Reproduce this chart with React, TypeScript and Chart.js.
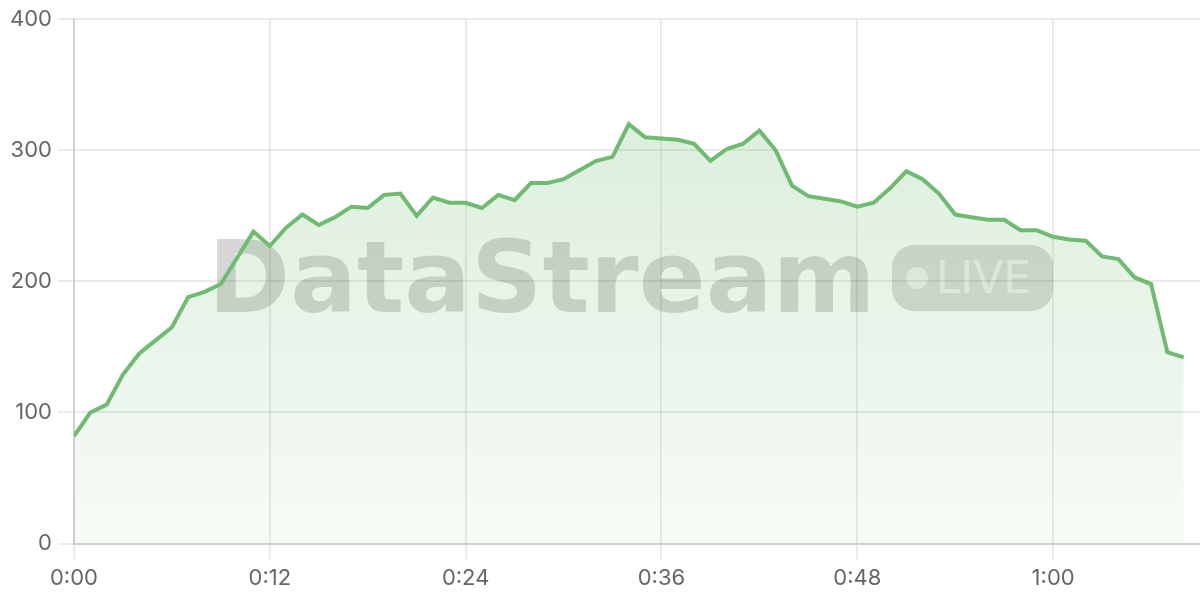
import { useEffect, useRef } from 'react';
import { Chart, registerables } from 'chart.js';

Chart.register(...registerables);

// one reading per minute, 0:00 .. 1:08
const values = [
  82, 100, 106, 129, 145, 155, 165, 188, 192, 198,
  218, 238, 227, 241, 251, 243, 249, 257, 256, 266,
  267, 250, 264, 260, 260, 256, 266, 262, 275, 275,
  278, 285, 292, 295, 320, 310, 309, 308, 305, 292,
  301, 305, 315, 300, 273, 265, 263, 261, 257, 260,
  271, 284, 278, 267, 251, 249, 247, 247, 239, 239,
  234, 232, 231, 219, 217, 203, 198, 146, 142,
];
const minutes = values.map((_, i) => i);
const xMax = 69;
const xTicks = [0, 12, 24, 36, 48, 60];
const yTicks = [0, 100, 200, 300, 400];

const lineColor = 'rgb(112, 186, 114)';
const gridColor = 'rgba(0,0,0,0.08)';

function fmtTime(m: number) {
  const h = Math.floor(m / 60);
  const mm = m % 60;
  return `${h}:${mm.toString().padStart(2, '0')}`;
}

export default function App() {
  const canvasRef = useRef<HTMLCanvasElement | null>(null);

  useEffect(() => {
    document.body.style.margin = '0';
    if (!canvasRef.current) return;

    const chart = new Chart(canvasRef.current, {
      type: 'line',
      data: {
        datasets: [{
          label: 'Viewers',
          data: minutes.map((m, i) => ({ x: m, y: values[i] })),
          borderColor: lineColor,
          borderWidth: 4,
          tension: 0,
          pointRadius: 0,
          fill: 'origin',
          backgroundColor: (ctx: any) => {
            const area = ctx.chart.chartArea;
            if (!area) return 'rgba(108,185,110,0.15)';
            const g = ctx.chart.ctx.createLinearGradient(0, area.top, 0, area.bottom);
            g.addColorStop(0, 'rgba(108,185,110,0.28)');
            g.addColorStop(1, 'rgba(108,185,110,0.06)');
            return g;
          },
        }],
      },
      options: {
        animation: false,
        responsive: true,
        maintainAspectRatio: false,
        layout: { padding: { left: 4, top: 6, right: 0, bottom: 2 } },
        plugins: { legend: { display: false }, tooltip: { enabled: false } },
        scales: {
          x: {
            type: 'linear',
            min: 0,
            max: xMax,
            grid: { lineWidth: 2, tickLength: 16, color: gridColor },
            border: { color: 'rgba(0,0,0,0.12)', width: 2 },
            afterBuildTicks: (axis: any) => {
              axis.ticks = xTicks.map((v) => ({ value: v }));
            },
            ticks: {
              padding: 6,
              color: '#666',
              font: { family: 'Inter', size: 22 },
              callback: (v: any) => fmtTime(Number(v)),
            },
          },
          y: {
            min: yTicks[0],
            max: yTicks[yTicks.length - 1],
            grid: { lineWidth: 2, tickLength: 16, color: gridColor },
            border: { color: 'rgba(0,0,0,0.12)', width: 2 },
            afterBuildTicks: (axis: any) => {
              axis.ticks = yTicks.map((v) => ({ value: v }));
            },
            ticks: {
              padding: 6,
              color: '#666',
              font: { family: 'Inter', size: 22 },
            },
          },
        },
      },
    });

    return () => chart.destroy();
  }, []);

  return (
    <div style={{ position: 'relative', width: 1200, height: 600 }}>
      <div
        style={{
          position: 'absolute', left: 208, top: 228, zIndex: 0,
          display: 'flex', alignItems: 'center',
          fontFamily: '"DejaVu Sans"', color: 'rgba(0,0,0,0.16)',
        }}
      >
        <span style={{ fontSize: 99, fontWeight: 'bold', lineHeight: 1 }}>DataStream</span>
        <span
          style={{
            marginLeft: 16, height: 66, width: 161, borderRadius: 22,
            background: 'rgba(0,0,0,0.14)', display: 'flex', alignItems: 'center',
            boxSizing: 'border-box', paddingLeft: 14,
          }}
        >
          <span style={{ width: 22, height: 22, borderRadius: 11, background: 'rgba(255,255,255,0.65)' }} />
          <span style={{ marginLeft: 8, fontSize: 44, color: 'rgba(255,255,255,0.65)', lineHeight: 1 }}>LIVE</span>
        </span>
      </div>
      <div style={{ position: 'relative', zIndex: 1, width: 1200, height: 600 }}>
        <canvas ref={canvasRef}></canvas>
      </div>
    </div>
  );
}
